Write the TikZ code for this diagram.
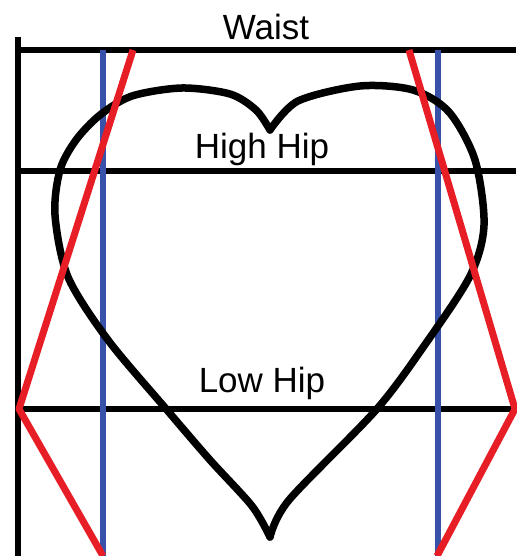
\documentclass[tikz,border=0pt]{standalone}
\usepackage{fontspec}
\setmainfont{Liberation Sans}
\usepackage{tikz}
\usetikzlibrary{calc}
\usepackage{xcolor}
\definecolor{LineRed} {RGB}{232, 30, 38}
\definecolor{LineBlue}{RGB}{ 55, 82,168}

\tikzset{
  guide/.style={line width=6.5pt,black},
  plumb/.style={line width=6pt,LineBlue},
  slant/.style={line width=7pt,LineRed,line join=round},
  heart/.style={line width=7.5pt,black,line join=round,line cap=round},
  lbl/.style={font=\fontsize{35}{40}\selectfont,anchor=base,inner sep=0pt}
}

\begin{document}
\begin{tikzpicture}[x=1pt,y=-1pt]
        \useasboundingbox[fill=white] (0,0) rectangle (516,556);
        % level lines
        \foreach \n/\y in {waist/50,high/171,low/409}{
          \coordinate (\n L) at (18,\y);
          \coordinate (\n R) at (516,\y);
          \draw[guide] (\n L) -- (\n R);
        }
        \coordinate (topL) at (18,37);
        \coordinate (botL) at (18,556);
        \draw[guide] (topL) -- (botL);
        % labels
        \node[lbl] (waist) at (266,40) {Waist};
        \node[lbl] (high) at (262,158) {High Hip};
        \node[lbl] (low) at (262,392) {Low Hip};
        % plumb lines
        \foreach \n/\x in {a/103,b/438}{
          \coordinate (\n top) at (\x,50);
          \coordinate (\n bot) at (\x,556);
          \draw[plumb] (\n top) -- (\n bot);
        }
        % heart
        \draw[heart] plot[smooth,tension=0.5] coordinates {(270,130) (298,101) (360,86) (413,90) (449,112) (475,160) (484,225) (470,276) (424,346) (376,410) (289,500) (270,537)};
        \draw[heart] plot[smooth,tension=0.5] coordinates {(270,537) (252,506) (210,460) (167,410) (108,340) (68,277) (55,215) (60,170) (76,140) (100,115) (132,96) (182,88) (230,94) (256,110) (270,130)};
        % slant lines
        \coordinate (sl1) at (133,50);
        \coordinate (sl2) at (19,409);
        \coordinate (sl3) at (103,556);
        \coordinate (sr1) at (409,50);
        \coordinate (sr2) at (515,409);
        \coordinate (sr3) at (437,556);
        \draw[slant] (sl1) -- (sl2) -- (sl3);
        \draw[slant] (sr1) -- (sr2) -- (sr3);
      \end{tikzpicture}
\end{document}
